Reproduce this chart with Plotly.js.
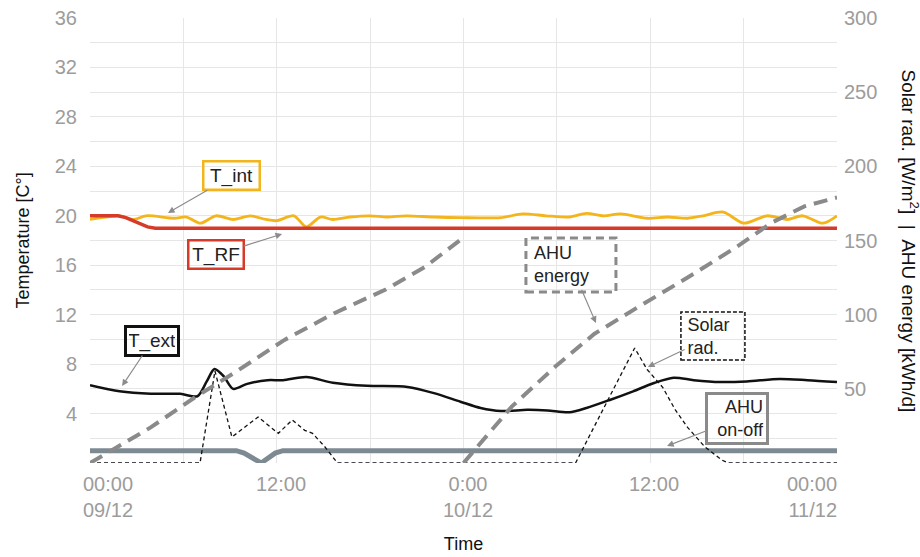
<!DOCTYPE html>
<html><head><meta charset="utf-8">
<script src="https://cdn.plot.ly/plotly-3.0.1.min.js"></script>
<style>html,body{margin:0;padding:0;background:#fff}#chart{width:920px;height:557px}</style>
</head><body><div id="chart"></div>
<script>
// ---- DATA (x = hours since 09/12 00:00) ----
const hoursInt = [0,1.9,2.8,3.6,5.4,6.2,7.1,8.1,9.2,10.3,11.3,12.0,13.1,13.9,14.8,15.6,16.7,18,19.1,20.3,22.1,23.8,26.4,27.8,29.3,30.8,31.9,33,34.1,35.8,37.1,38.4,39.4,40.7,42,43.5,44.8,45.8,47.1,48];
const tInt = [19.7,20.0,19.7,20.0,19.8,19.9,19.4,20.0,19.7,20.0,19.7,19.6,20.0,19.1,19.9,19.7,19.9,20.0,19.9,20.0,19.9,19.85,19.85,20.15,20.0,19.9,20.2,20.0,20.15,19.8,19.9,19.8,20.0,20.3,19.4,20.0,19.7,20.0,19.4,20.0];

const hoursRF = [0,1.8,2.3,3.0,3.7,4.2,48];
const tRF = [20,20,19.85,19.45,19.1,19,19];

const hoursExt = [0,1.9,3.9,5.8,6.9,7.5,8.0,8.6,9.2,10.1,11.4,12.4,13.9,15.6,17.8,20.4,22.1,23.8,25.1,26.4,28.1,29.4,30.8,31.9,33.4,34.9,36.2,37.5,38.8,40.5,42.2,44.3,46.1,48];
const tExt = [6.3,5.8,5.6,5.6,5.4,6.6,7.6,7.0,6.0,6.4,6.7,6.7,6.95,6.5,6.25,6.15,5.65,4.96,4.45,4.2,4.3,4.25,4.1,4.45,5.1,5.8,6.45,6.9,6.7,6.55,6.6,6.8,6.7,6.55];

const hoursSolar = [0,7.07,8.03,9.12,10.8,12.1,13.0,13.8,14.3,14.7,15.1,15.9,31.2,33.5,35.0,35.8,36.8,37.6,38.4,39.5,40.6,41.0,48];
const solarRad = [0,0,62,17.5,31,20,29,22,20,15.5,10.8,0,0,47,77.5,63,51,36,24,11,2,0,0];

const hoursEnergy = [0,3.9,6.7,9.3,12.5,15.7,19.0,21.5,24,24,24,27.1,29.9,32.4,35.2,38.4,41.6,43.8,45.9,48];
const ahuEnergy = [0,24,44,61,83,101,117,132,152,null,0,38,65,87,105,125,146,162,173,179];

const hoursOnOff = [0,9.4,9.9,11.0,11.9,12.4,48];
const ahuOnOff = [1,1,0.8,0,0.8,1,1];

const xTickVals = [0,12,24,36,48];
const xTickText = ['00:00<br>09/12','12:00','0:00<br>10/12','12:00','00:00<br>11/12'];
const yGridVals = [0,2,4,6,8,10,12,14,16,18,20,22,24,26,28,30,32,34,36];
const yTickLabels = ['','','4','','8','','12','','16','','20','','24','','28','','32','','36'];
const y2TickVals = [50,100,150,200,250,300];

const boxLabels = ['T_int','T_RF','T_ext','AHU<br>energy','Solar<br>rad.','AHU<br>on-off'];

// ---- STYLE / POSITIONS of callout boxes ----
const boxStyle = [
  {h:5.01, v:20.23, ax:64, ay:-37, w:65, ht:33, color:'#f3b51b', bw:2.5, dash:null, align:'center', fs:19},
  {h:12.34, v:18.53, ax:-66, ay:21, w:64, ht:34, color:'#d63b2a', bw:2.5, dash:null, align:'center', fs:19},
  {h:2.06, v:6.23, ax:30, ay:-45, w:62, ht:32, color:'#111111', bw:3, dash:null, align:'center', fs:19},
  {h:32.51, v:11.33, ax:-25, ay:-58, w:90, ht:54, color:'#8a8a8a', bw:3, dash:'8px,5px', align:'left', fs:18},
  {h:35.85, v:7.77, ax:65, ay:-31, w:64, ht:48, color:'#111111', bw:1.5, dash:'4px,2px', align:'left', fs:18},
  {h:37.08, v:1.38, ax:70, ay:-27, w:70, ht:48, color:'#8a8a8a', bw:3, dash:null, align:'right', fs:18}
];

const FONT = 'Liberation Sans, Arial, Helvetica, sans-serif';
const tickFont = {family: FONT, size: 20, color: '#9c9c9c'};

const traces = [
  {x: hoursSolar, y: solarRad, yaxis: 'y2', mode: 'lines', name: 'Solar rad.',
   line: {color: '#111', width: 1.3, dash: '4px,3px'}},
  {x: hoursEnergy, y: ahuEnergy, yaxis: 'y2', mode: 'lines', name: 'AHU energy', connectgaps: false,
   line: {color: '#8a8a8a', width: 4, dash: '14px,8px'}},
  {x: hoursOnOff, y: ahuOnOff, mode: 'lines', name: 'AHU on-off',
   line: {color: '#7e8a92', width: 5}},
  {x: hoursExt, y: tExt, mode: 'lines', name: 'T_ext',
   line: {color: '#111', width: 2.5, shape: 'spline', smoothing: 0.8}},
  {x: hoursInt, y: tInt, mode: 'lines', name: 'T_int',
   line: {color: '#f3b51b', width: 2.8, shape: 'spline', smoothing: 0.8}},
  {x: hoursRF, y: tRF, mode: 'lines', name: 'T_RF',
   line: {color: '#d63b2a', width: 3.5}}
];

const annotations = [];
const shapes = [];
boxLabels.forEach((txt, i) => {
  const s = boxStyle[i];
  const pad = 2;
  annotations.push({
    x: s.h, y: s.v, xref: 'x', yref: 'y', text: txt, showarrow: true,
    ax: s.ax, ay: s.ay, axref: 'pixel', ayref: 'pixel',
    arrowhead: 2, arrowsize: 1.1, arrowwidth: 1.2, arrowcolor: '#8c8c8c', standoff: 0,
    font: {family: FONT, size: s.fs, color: '#222'},
    align: s.align, bgcolor: 'rgba(255,255,255,0)',
    bordercolor: s.dash ? 'rgba(0,0,0,0)' : s.color, borderwidth: s.bw, borderpad: pad,
    width: s.w - 2 * pad - 2 * s.bw - 6
  });
  if (s.dash) {
    shapes.push({
      type: 'rect', xref: 'x', yref: 'y', xsizemode: 'pixel', ysizemode: 'pixel',
      xanchor: s.h, yanchor: s.v,
      x0: s.ax - s.w / 2, x1: s.ax + s.w / 2,
      y0: -s.ay - s.ht / 2, y1: -s.ay + s.ht / 2,
      line: {color: s.color, width: s.bw, dash: s.dash}, fillcolor: 'rgba(0,0,0,0)'
    });
  }
});

xTickText.forEach((t, i) => {
  const last = xTickText.length - 1;
  annotations.push({
    x: xTickVals[i], y: 0, xref: 'x', yref: 'paper', text: t, showarrow: false,
    xanchor: i === 0 ? 'left' : (i === last ? 'right' : 'center'),
    align: i === 0 ? 'left' : (i === last ? 'right' : 'center'),
    xshift: i === 0 ? -9 : (i === last ? 2 : 4),
    yanchor: 'top', yshift: -8, font: tickFont
  });
});

annotations.push({
  xref: 'paper', yref: 'paper', x: 1, y: 0.5, xanchor: 'center', yanchor: 'middle',
  xshift: 73, yshift: 0, textangle: 90, showarrow: false,
  text: 'Solar rad. [W/m<sup>2</sup>]  |  AHU energy [kWh/d]',
  font: {family: FONT, size: 19, color: '#111'}
});

const layout = {
  width: 920, height: 557,
  margin: {l: 90, r: 83, t: 18, b: 94},
  paper_bgcolor: '#fff', plot_bgcolor: '#fff',
  showlegend: false,
  font: {family: FONT},
  xaxis: {
    range: [0, 48], tickvals: [0,6,12,18,24,30,36,42,48], showticklabels: false,
    showgrid: true, gridcolor: '#e6e6e6', gridwidth: 1, zeroline: false, showline: false, ticks: '',
    title: {text: 'Time', font: {family: FONT, size: 18, color: '#111'}, standoff: 74}
  },
  yaxis: {
    range: [0, 36], tickvals: yGridVals, ticktext: yTickLabels, tickfont: tickFont,
    showgrid: true, gridcolor: '#e6e6e6', gridwidth: 1, zeroline: false, showline: false, ticks: '',
    ticklabelstandoff: 12,
    title: {text: 'Temperature [C°]', font: {family: FONT, size: 18, color: '#111'}, standoff: 20}
  },
  yaxis2: {
    range: [0, 300], overlaying: 'y', side: 'right', tickvals: y2TickVals, tickfont: tickFont,
    showgrid: false, zeroline: false, showline: false, ticks: '', ticklabelstandoff: 6
  },
  annotations: annotations,
  shapes: shapes
};

Plotly.newPlot('chart', traces, layout, {displayModeBar: false, staticPlot: true});
</script></body></html>
